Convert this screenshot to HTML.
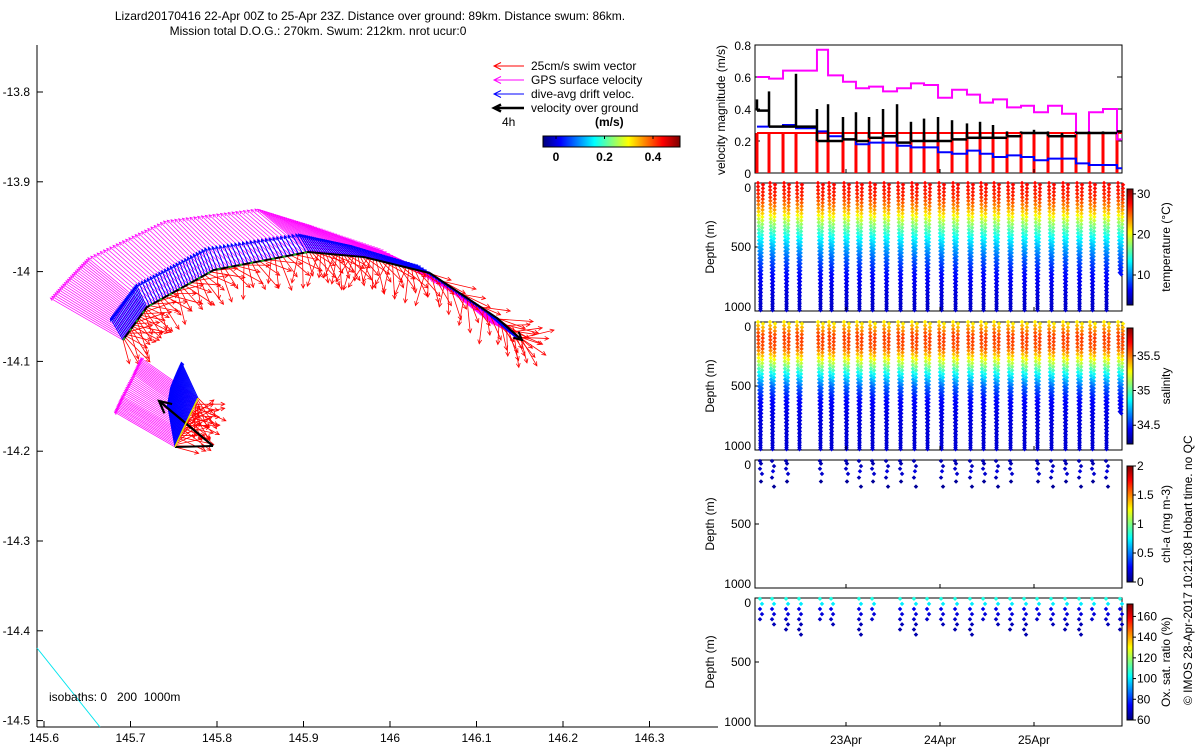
<!DOCTYPE html>
<html><head><meta charset="utf-8">
<style>
body{margin:0;background:#fff;}
svg{display:block;font-family:"Liberation Sans",sans-serif;}
text{font-size:12px;fill:#000;white-space:pre;}
</style></head>
<body>
<svg id="fig" width="1200" height="750" viewBox="0 0 1200 750" xmlns="http://www.w3.org/2000/svg">
<text x="370" y="20" text-anchor="middle">Lizard20170416 22-Apr 00Z to 25-Apr 23Z. Distance over ground: 89km. Distance swum: 86km.</text>
<text x="318" y="35" text-anchor="middle">Mission total D.O.G.: 270km. Swum: 212km. nrot ucur:0</text>
<g id="map"></g>
<g id="right"></g>
<text transform="translate(1192,705) rotate(-90)" font-size="12">© IMOS 28-Apr-2017 10:21:08 Hobart time. no QC</text>
</svg>
<script>
// ---------- data ----------
const lonTicks=[145.6,145.7,145.8,145.9,146,146.1,146.2,146.3];
const latTicks=[-13.8,-13.9,-14,-14.1,-14.2,-14.3,-14.4,-14.5];
const trackLon=[145.6914,145.7191,145.7965,145.9052,145.9699,146.0463,146.1237,146.1526];
const trackLat=[-14.0762,-14.0394,-13.9982,-13.9782,-13.9838,-14.0017,-14.0517,-14.0762];
const gpsAng=[150,140,135,140,150,155,150,150];
const gpsMag=[0.6,0.55,0.5,0.48,0.45,0.4,0.35,0.25];
const daAng=[120,115,110,120,140,150,150,150];
const daMag=[0.18,0.18,0.17,0.15,0.13,0.11,0.09,0.06];
const swimAng=[-30,-25,-40,-60,-80,-60,-50,-30];
const smallLon=[145.7514,145.7600,145.7690,145.7780,145.7954];
const smallLat=[-14.1953,-14.1771,-14.1590,-14.1408,-14.1942];
const diveT=[0.053,0.181,0.330,0.468,0.691,0.809,0.968,1.106,1.245,1.394,1.543,1.691,1.830,1.979,2.128,2.287,2.426,2.564,2.713,2.862,3.0,3.149,3.298,3.447,3.585,3.734,3.883];
const gpsVel=[0.6,0.59,0.64,0.64,0.77,0.61,0.57,0.53,0.54,0.51,0.53,0.56,0.55,0.47,0.52,0.49,0.44,0.46,0.41,0.42,0.38,0.42,0.37,0.25,0.38,0.40,0.21];
const ogVel=[0.39,0.29,0.29,0.29,0.2,0.2,0.21,0.2,0.22,0.23,0.19,0.2,0.2,0.2,0.21,0.22,0.22,0.22,0.23,0.25,0.25,0.23,0.23,0.25,0.25,0.25,0.26];
const ogSpike=[0.46,0.51,0.3,0.62,0.4,0.43,0.35,0.38,0.35,0.40,0.43,0.32,0.34,0.35,0.33,0.31,0.32,0.3,0.26,0.26,0.27,0.26,0.25,0.26,0.26,0.26,0.26];
const daVel=[0.29,0.29,0.3,0.28,0.26,0.23,0.21,0.18,0.19,0.19,0.17,0.16,0.16,0.13,0.12,0.14,0.12,0.1,0.11,0.1,0.08,0.09,0.09,0.06,0.05,0.05,0.03];
const swimVel=[0.25,0.25,0.25,0.25,0.25,0.25,0.25,0.25,0.25,0.25,0.25,0.25,0.25,0.25,0.25,0.25,0.25,0.25,0.25,0.25,0.25,0.25,0.25,0.25,0.25,0.25,0.25];
const diveMax=[1000,1000,1000,1000,1000,1000,1000,1000,1000,1000,1000,1000,1000,1000,1000,1000,1000,1000,1000,1000,1000,1000,1000,1000,1000,1000,700];
const profDepth=[0,100,200,300,400,500,600,700,800,900,1000];
const tempProf=[27.5,26.5,23,18,14,11,8.5,6.5,5.5,5,4.5];
const salProf=[35.3,35.6,35.55,35.2,34.85,34.6,34.45,34.4,34.38,34.37,34.37];
const chlDepth=[0,20,40,60,80,100,130,160,200];
const chlVal=[0.1,0.1,0.12,0.15,0.2,0.15,0.1,0.05,0.05];
const oxDepth=[0,40,80,120,160,200,240,280];
const oxVal=[105,100,72,70,68,66,65,65];
const dayTicks=[1,2,3];
const dayLabels=["23Apr","24Apr","25Apr"];

// ---------- helpers ----------
const NS="http://www.w3.org/2000/svg";
function mk(tag,attrs,parent){const e=document.createElementNS(NS,tag);for(const k in attrs)e.setAttribute(k,attrs[k]);parent.appendChild(e);return e;}
const X=lon=>390+(lon-146)*865;
const Y=lat=>92+(-13.8-lat)*898;
const T=t=>846+(t-1)*94;
function jet(v){v=Math.max(0,Math.min(1,v));const r=Math.max(0,Math.min(1,1.5-Math.abs(4*v-3))),g=Math.max(0,Math.min(1,1.5-Math.abs(4*v-2))),b=Math.max(0,Math.min(1,1.5-Math.abs(4*v-1)));return `rgb(${Math.round(r*255)},${Math.round(g*255)},${Math.round(b*255)})`;}
function interp(xs,ys,x){for(let i=0;i<xs.length-1;i++){if(x<=xs[i+1]){const f=(x-xs[i])/(xs[i+1]-xs[i]);return ys[i]+f*(ys[i+1]-ys[i]);}}return ys[ys.length-1];}

const map=document.getElementById('map');
let ax=mk('line',{x1:37,y1:45,x2:37,y2:727,stroke:'#000'},map);

ax=mk('line',{x1:37,y1:727,x2:718,y2:727,stroke:'#000'},map);

lonTicks.forEach(v=>{const x=X(v);mk('line',{x1:x,y1:727,x2:x,y2:721,stroke:'#000'},map);
 const t=mk('text',{x:x,y:742,'text-anchor':'middle'},map);t.textContent=String(v);
 });
latTicks.forEach(v=>{const y=Y(v);mk('line',{x1:37,y1:y,x2:43,y2:y,stroke:'#000'},map);
 const t=mk('text',{x:30,y:y+4,'text-anchor':'end'},map);t.textContent=String(v);
 });
mk('line',{x1:37,y1:648,x2:100,y2:727,stroke:'#00e5ee'},map);
let tx=mk('text',{x:49,y:701},map);tx.textContent='isobaths: 0   200  1000m';


function arrow(g,x0,y0,dx,dy,col,w,hs){
 mk('line',{x1:x0,y1:y0,x2:x0+dx,y2:y0+dy,stroke:col,'stroke-width':w},g);
 const L=Math.hypot(dx,dy)||1,ux=dx/L,uy=dy/L;
 const x1=x0+dx,y1=y0+dy;
 mk('polyline',{points:`${x1-hs*(ux-0.5*uy)},${y1-hs*(uy+0.5*ux)} ${x1},${y1} ${x1-hs*(ux+0.5*uy)},${y1-hs*(uy-0.5*ux)}`,fill:'none',stroke:col,'stroke-width':w},g);
}
const S=140;
function vectorsAlong(lons,lats,gA,gM,dA,dM,sA,N,tag){
 const gv=mk('g',{},map);
 const rv=mk('g',{},map);
 const bv=mk('g',{},map);
 const idx=lons.map((_,i)=>i);
 for(let k=0;k<N;k++){
  const s=k/(N-1)*(lons.length-1);
  const lon=interp(idx,lons,s),lat=interp(idx,lats,s);
  const x=X(lon),y=Y(lat);
  let a=interp(idx,gA,s)*Math.PI/180,m=interp(idx,gM,s)*S;
  arrow(gv,x,y,Math.cos(a)*m,-Math.sin(a)*m,'#ff00ff',0.7,3);
  a=(interp(idx,sA,s)+((k%7)-3)*15)*Math.PI/180;m=0.25*S*(0.7+0.15*((k*7)%3));
  arrow(rv,x,y,Math.cos(a)*m,-Math.sin(a)*m,'#ff0000',0.8,4);
  a=interp(idx,dA,s)*Math.PI/180;m=interp(idx,dM,s)*S;
  arrow(bv,x,y,Math.cos(a)*m,-Math.sin(a)*m,'#0000ff',1,3);
 }
}
vectorsAlong(trackLon,trackLat,gpsAng,gpsMag,daAng,daMag,swimAng,170,'arc');
vectorsAlong(smallLon.slice(0,4),smallLat.slice(0,4),[150,150,145,145],[0.5,0.5,0.5,0.5],[100,105,110,115],[0.3,0.32,0.3,0.28],[30,10,-20,-60],40,'small');
let pts=trackLon.map((v,i)=>X(v)+','+Y(trackLat[i])).join(' ');
let tr=mk('polyline',{points:pts,fill:'none',stroke:'#000','stroke-width':2},map);

mk('polyline',{points:trackLon.slice(0,4).map((v,i)=>X(v)+','+Y(trackLat[i])).join(' '),fill:'none',stroke:'#20b020','stroke-width':1.5,'stroke-dasharray':'3,8'},map);
const og=mk('g',{},map);
arrow(og,X(trackLon[6]),Y(trackLat[6]),X(trackLon[7])-X(trackLon[6]),Y(trackLat[7])-Y(trackLat[6]),'#000',2,8);
tr=mk('polyline',{points:`${X(smallLon[0])},${Y(smallLat[0])} ${X(smallLon[4])},${Y(smallLat[4])}`,stroke:'#000','stroke-width':2,fill:'none'},map);

mk('polyline',{points:smallLon.slice(0,4).map((v,i)=>X(v)+','+Y(smallLat[i])).join(' '),fill:'none',stroke:'#e0e000','stroke-width':1.5},map);
arrow(og,X(smallLon[4]),Y(smallLat[4]),X(145.733)-X(smallLon[4]),Y(-14.1441)-Y(smallLat[4]),'#000',2.2,12);

// legend
const lg=mk('g',{},map);
[['25cm/s swim vector','#ff0000',1],['GPS surface velocity','#ff00ff',1],['dive-avg drift veloc.','#0000ff',1],['velocity over ground','#000',2.5]].forEach((e,i)=>{
 const y=66+i*14;arrow(lg,524,y,-30,0,e[1],e[2],7);
 const t=mk('text',{x:531,y:y+4},lg);t.textContent=e[0];
 });
tx=mk('text',{x:502,y:126},lg);tx.textContent='4h';
tx=mk('text',{x:595,y:126,'font-weight':'bold'},lg);tx.textContent='(m/s)';
const cbTicks=[0,0.2,0.4];
for(let i=0;i<137;i++){mk('rect',{x:543+i,y:136,width:1.2,height:11,fill:jet(i/136)},lg);}
mk('rect',{x:543,y:136,width:137,height:11,fill:'none',stroke:'#000'},lg);
cbTicks.forEach(v=>{const x=556+v/0.2*48.5;mk('line',{x1:x,y1:136,x2:x,y2:139,stroke:'#000'},lg);
 const t=mk('text',{x:x,y:161,'text-anchor':'middle','font-weight':'bold'},lg);t.textContent=String(v);});

// ---------- right panels ----------
const R=document.getElementById('right');
const P0=755,P1=1122;
const tops=[45,183,322,460,598],H=128;
function panel(i,name){const g=mk('g',{},R);
 mk('rect',{x:P0,y:tops[i],width:P1-P0,height:H,fill:'#fff',stroke:'#000'},g);return g;}
let g=panel(0,'velocity-panel');
const Vy=v=>173-v*160;
[0,0.2,0.4,0.6,0.8].forEach(v=>{const y=Vy(v);const t=mk('text',{x:751,y:y+5,'text-anchor':'end'},g);t.textContent=String(v);
 mk('line',{x1:P0,y1:y,x2:P0+5,y2:y,stroke:'#000'},g);mk('line',{x1:P1,y1:y,x2:P1-5,y2:y,stroke:'#000'},g);});
tx=mk('text',{transform:'translate(725,110) rotate(-90)','text-anchor':'middle'},g);tx.textContent='velocity magnitude (m/s)';
function stepLine(vals,col,w,name){let p=[];vals.forEach((v,i)=>{const t0=Math.max(diveT[i],0.032),t1=i<vals.length-1?diveT[i+1]:3.936;p.push(T(t0)+','+Vy(v),T(Math.min(t1,3.936))+','+Vy(v));});
 const l=mk('polyline',{points:p.join(' '),fill:'none',stroke:col,'stroke-width':w},g);}
swimVel.forEach((v,i)=>{const x=T(diveT[i]);const x2=i<swimVel.length-1?T(diveT[i+1]):P1;
 const r=mk('line',{x1:x,y1:Vy(0),x2:x,y2:Vy(v),stroke:'#ff0000','stroke-width':3},g);
 mk('line',{x1:x,y1:Vy(v),x2:Math.min(x2,P1),y2:Vy(v),stroke:'#ff0000','stroke-width':2},g);});
stepLine(gpsVel,'#ff00ff',2,'gps-velocity-line');
stepLine(daVel,'#0000ff',2,'drift-velocity-line');
ogVel.forEach((v,i)=>{const x=T(diveT[i]);const x2=i<ogVel.length-1?T(diveT[i+1]):P1;
 const s=mk('line',{x1:x,y1:Vy(ogSpike[i]),x2:x,y2:Vy(v),stroke:'#000','stroke-width':2.5},g);
 mk('line',{x1:x,y1:Vy(v),x2:Math.min(x2,P1),y2:Vy(v),stroke:'#000','stroke-width':2.5},g);});

function depthPanel(i,name,drawDots){const g=panel(i,name);const top=tops[i];
 const Dy=d=>top+d/1000*H;
 [0,500,1000].forEach(d=>{const t=mk('text',{x:751,y:Dy(d)+(d===0?9:d===1000?0:4),'text-anchor':'end'},g);t.textContent=String(d);
  mk('line',{x1:P0,y1:Dy(d),x2:P0+4,y2:Dy(d),stroke:'#000'},g);});
 const t=mk('text',{transform:`translate(714,${top+64}) rotate(-90)`,'text-anchor':'middle'},g);t.textContent='Depth (m)';
 drawDots(g,Dy);return g;}
function dot(g,x,y,col){mk('rect',{x:x-1.6,y:y-1.6,width:3.2,height:3.2,fill:col,transform:`rotate(45 ${x} ${y})`},g);}
function profileDots(field,lo,hi){return (g,Dy)=>{diveT.forEach((t,k)=>{const x0=T(t);const mx=diveMax[k];
 for(let d=0;d<=mx;d+=28){const v=interp(profDepth,field,d);const c=jet((v-lo)/(hi-lo));
  dot(g,x0+1+d/1000*2.5,Dy(d),c);dot(g,x0+6-d/1000*2.5,Dy(d+14),c);}});};}
depthPanel(1,'temperature-panel',profileDots(tempProf,2.6,31.2));
depthPanel(2,'salinity-panel',profileDots(salProf,34.23,35.9));
depthPanel(3,'chla-panel',(g,Dy)=>{diveT.forEach((t,k)=>{if(k===3||k%7===5)return;const x0=T(t);
 chlDepth.forEach((d,j)=>{if(j%2===k%2&&j>0)return;dot(g,x0+3+(j%3),Dy(d+8),jet(chlVal[j]/2));});});});
depthPanel(4,'oxygen-panel',(g,Dy)=>{diveT.forEach((t,k)=>{if(k===6||k===9)return;const x0=T(t);
 oxDepth.forEach((d,j)=>{if(j>4+(k%4))return;dot(g,x0+3+(j%2)*2,Dy(d+6),jet((oxVal[j]-60)/112));});});});
dayTicks.forEach((d,i)=>{const x=T(d);const t=mk('text',{x:x,y:744,'text-anchor':'middle'},R);t.textContent=dayLabels[i];
 
 tops.forEach(tp=>{mk('line',{x1:x,y1:tp+H,x2:x,y2:tp+H-4,stroke:'#000'},R);});});
function cbar(i,lo,hi,ticks,label){const top=tops[i]+6,h=H-12;const cg=mk('g',{},R);
 for(let k=0;k<h;k++)mk('rect',{x:1127,y:top+h-k-1,width:6,height:1.3,fill:jet(k/h)},cg);
 mk('rect',{x:1127,y:top,width:6,height:h,fill:'none',stroke:'#000'},cg);
 ticks.forEach(v=>{const y=top+h-(v-lo)/(hi-lo)*h;mk('line',{x1:1133,y1:y,x2:1136,y2:y,stroke:'#000'},cg);
  const t=mk('text',{x:1137,y:y+4},cg);t.textContent=String(v);});
 const t=mk('text',{transform:`translate(1170,${tops[i]+64}) rotate(-90)`,'text-anchor':'middle'},cg);t.textContent=label;}
cbar(1,2.6,31.2,[10,20,30],'temperature (°C)');
cbar(2,34.23,35.9,[34.5,35,35.5],'salinity');
cbar(3,0,2,[0,0.5,1,1.5,2],'chl-a (mg m-3)');
cbar(4,60,172,[60,80,100,120,140,160],'Ox. sat. ratio (%)');
</script>
</body></html>
